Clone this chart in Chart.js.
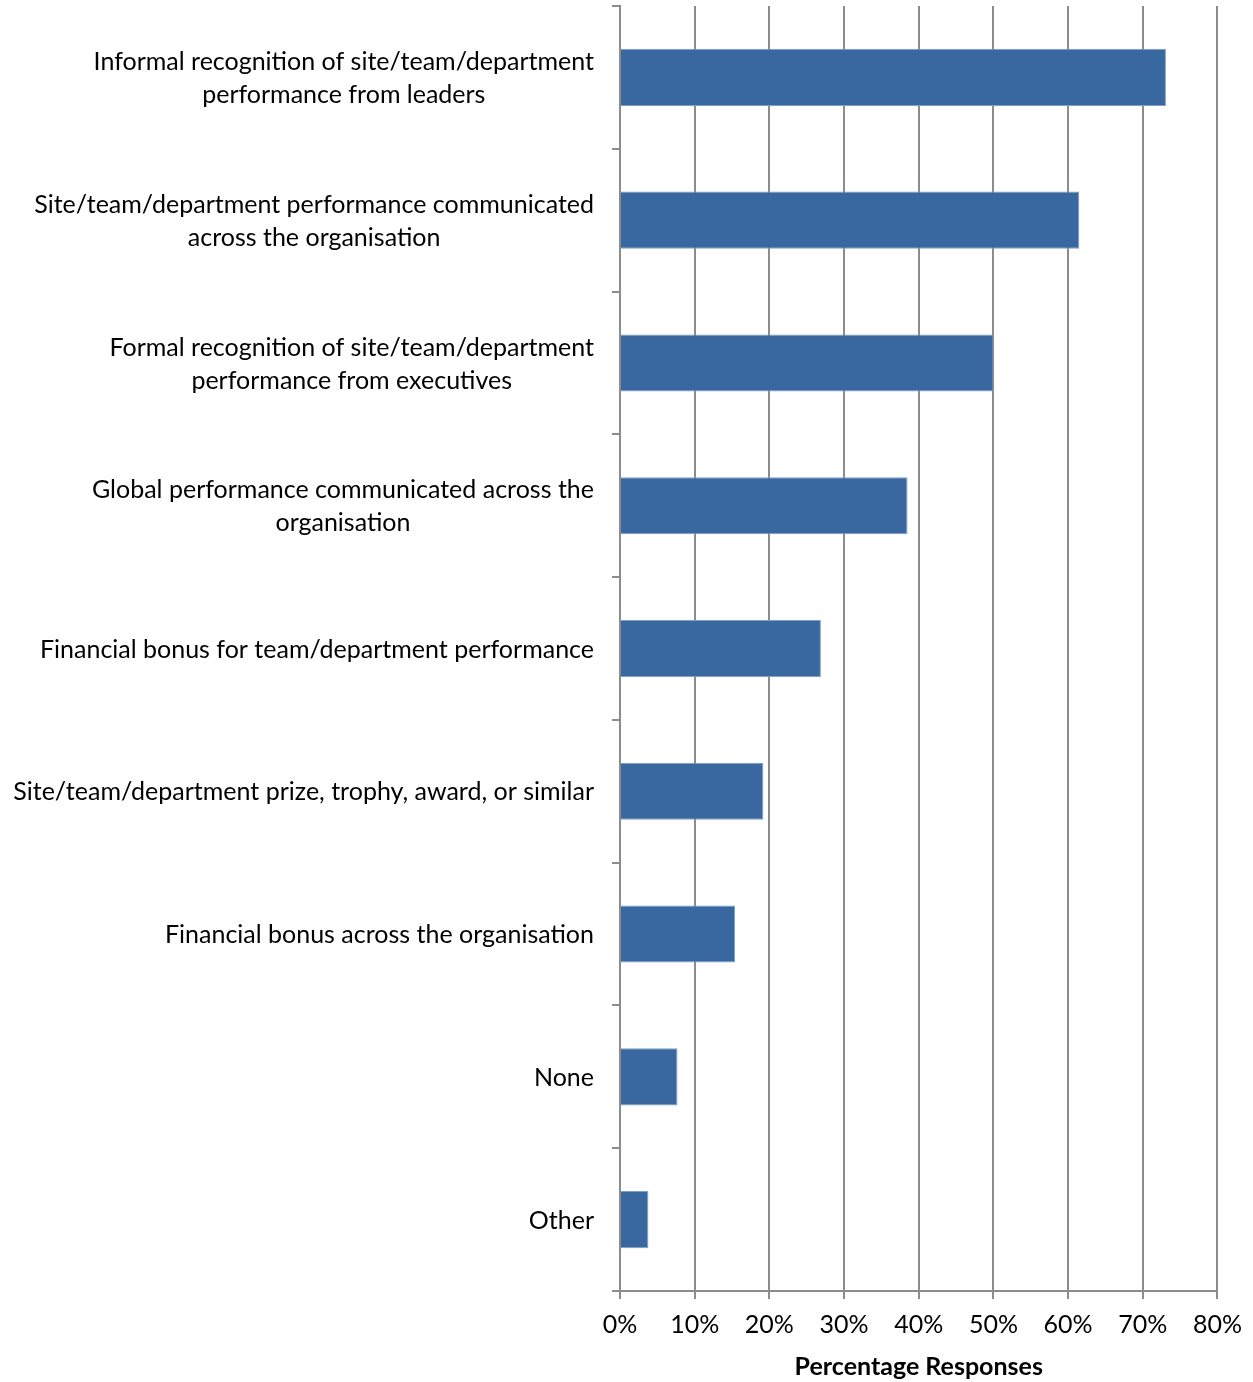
<!DOCTYPE html>
<html lang="en">
<head>
    <meta charset="UTF-8">
    <title>Percentage Responses</title>
    <script src="https://cdn.jsdelivr.net/npm/chart.js@4.4.1/dist/chart.umd.min.js"></script>
    <style>
        body {
            margin: 0;
            background-color: #ffffff;
        }

        #chart {
            display: block;
        }
    </style>
</head>
<body>
    <canvas id="chart" width="1253" height="1382"></canvas>

    <script>
        // categories, top to bottom (multi-line labels as arrays)
        var categories = [
            ['Informal recognition of site/team/department', 'performance from leaders'],
            ['Site/team/department performance communicated', 'across the organisation'],
            ['Formal recognition of site/team/department', 'performance from executives'],
            ['Global performance communicated across the', 'organisation'],
            ['Financial bonus for team/department performance'],
            ['Site/team/department prize, trophy, award, or similar'],
            ['Financial bonus across the organisation'],
            ['None'],
            ['Other']
        ];
        var responses = [73.1, 61.5, 50.0, 38.5, 26.9, 19.2, 15.4, 7.7, 3.8];
        var xTickValues = [0, 10, 20, 30, 40, 50, 60, 70, 80];

        var FONT = 'Lato, "Open Sans", sans-serif';
        var axisGrey = '#8c8c8c';

        // category labels: block sits against the axis, lines centred inside it
        var categoryLabels = {
            id: 'categoryLabels',
            afterDraw: function (chart) {
                var ctx = chart.ctx;
                var yScale = chart.scales.y;
                var right = chart.chartArea.left - 26;
                var lineHeight = 33;
                ctx.save();
                ctx.font = '25px ' + FONT;
                ctx.fillStyle = '#000000';
                ctx.textAlign = 'center';
                ctx.textBaseline = 'middle';
                categories.forEach(function (lines, i) {
                    var widest = Math.max.apply(null, lines.map(function (l) { return ctx.measureText(l).width; }));
                    var cx = right - widest / 2;
                    var cy = yScale.getPixelForValue(i) + 1;
                    var startY = cy - (lines.length - 1) * lineHeight / 2;
                    lines.forEach(function (l, j) {
                        ctx.fillText(l, cx, startY + j * lineHeight);
                    });
                });
                ctx.restore();
            }
        };

        var ctx = document.getElementById('chart').getContext('2d');
        new Chart(ctx, {
            type: 'bar',
            data: {
                labels: categories.map(function (c) { return c.join(' '); }),
                datasets: [{
                    data: responses,
                    backgroundColor: '#38689f',
                    borderColor: '#7f9fc6',
                    borderWidth: 1,
                    barPercentage: 0.4,
                    categoryPercentage: 1.0
                }]
            },
            options: {
                indexAxis: 'y',
                responsive: false,
                animation: false,
                layout: {
                    padding: { top: 6, right: 34, left: 0, bottom: 0 }
                },
                plugins: {
                    legend: { display: false },
                    tooltip: { enabled: false }
                },
                scales: {
                    y: {
                        type: 'category',
                        afterFit: function (scale) { scale.width = 620; },
                        ticks: { display: false },
                        grid: {
                            offset: true,
                            drawOnChartArea: false,
                            drawTicks: true,
                            tickLength: 8,
                            color: axisGrey,
                            lineWidth: 2
                        },
                        border: { display: true, color: axisGrey, width: 2 }
                    },
                    x: {
                        min: xTickValues[0],
                        max: xTickValues[xTickValues.length - 1],
                        afterFit: function (scale) { scale.height = 91; },
                        ticks: {
                            stepSize: 10,
                            padding: 11,
                            color: '#000000',
                            font: { family: FONT, size: 25 },
                            callback: function (v) { return v + '%'; }
                        },
                        grid: {
                            color: axisGrey,
                            lineWidth: 2,
                            drawTicks: true,
                            tickLength: 8
                        },
                        border: { display: true, color: axisGrey, width: 2 },
                        title: {
                            display: true,
                            text: 'Percentage Responses',
                            color: '#000000',
                            font: { family: FONT, size: 25, weight: 'bold' },
                            padding: { top: 0, bottom: 0 }
                        }
                    }
                }
            },
            plugins: [categoryLabels]
        });
    </script>
</body>
</html>
